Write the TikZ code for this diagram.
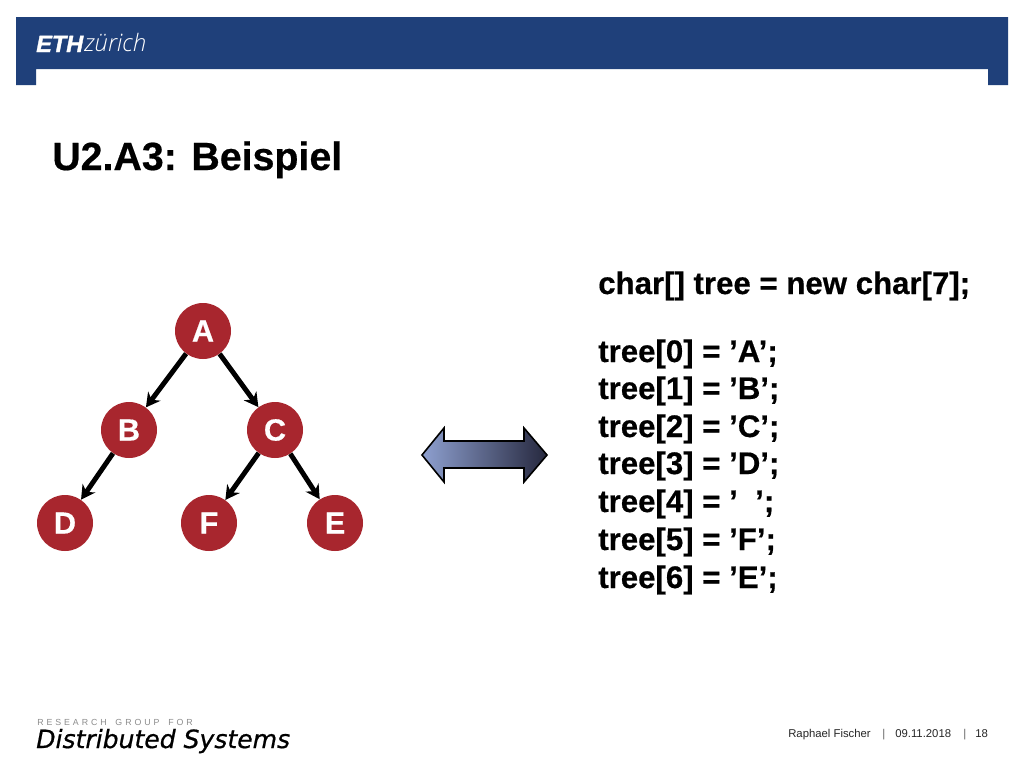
\documentclass[tikz,border=0pt]{standalone}
\usepackage{fontspec}
\setmainfont{Liberation Sans}[BoldFeatures={FakeBold=0.5},BoldItalicFeatures={FakeBold=1.6}]
\newfontfamily\logofont[FakeBold=0.7]{DejaVu Sans}
\newfontfamily\zfont{Open Sans Light}
\usetikzlibrary{arrows.meta}
\definecolor{ethblue}{HTML}{1F407A}
\definecolor{ethred}{HTML}{A8262E}
\tikzset{
  x=0.75pt,y=-0.75pt,
  tree/.style={circle,fill=ethred,draw=none,minimum size=42pt,inner sep=0pt,text=white,font=\bfseries\fontsize{23}{23}\selectfont},
  edge/.style={line width=3.7pt,-{Stealth[length=10.5pt,width=11.5pt]}},
  code/.style={anchor=base west,inner sep=0pt,font=\bfseries\fontsize{23.4}{23.4}\selectfont},
  foot/.style={anchor=base west,inner sep=0pt,text=black!85,font=\fontsize{8.5}{8.5}\selectfont}
}
\begin{document}
\begin{tikzpicture}
\useasboundingbox[fill=white] (0,0) rectangle (1024,768);
\fill[ethblue] (16,17) -- (1008,17) -- (1008,85) -- (988,85) -- (988,69) -- (36,69) -- (36,85) -- (16,85) -- cycle;
\node[anchor=base west,inner sep=0pt,text=white,font=\bfseries\itshape\fontsize{17.6}{17.6}\selectfont] (eth) at (36,52) {ETH};
\node[anchor=base west,inner sep=0pt,text=white,font=\zfont\itshape\fontsize{18}{18}\selectfont] (zu) at (84,51) {zürich};
\node[anchor=base west,inner sep=0pt,font=\bfseries\fontsize{29.5}{29.5}\selectfont] (title) at (52,170) {U2.A3: Beispiel};
\node[tree] (A) at (203,331) {A};
\node[tree] (B) at (129,430) {B};
\node[tree] (C) at (275,430) {C};
\node[tree] (D) at (65,523) {D};
\node[tree] (F) at (209,523) {F};
\node[tree] (E) at (335,523) {E};
\draw[edge] (A) -- (B);
\draw[edge] (A) -- (C);
\draw[edge] (B) -- (D);
\draw[edge] (C) -- (F);
\draw[edge] (C) -- (E);
\shade[draw=black,line width=1.2pt,line join=miter,left color={rgb,255:red,142;green,160;blue,208},middle color={rgb,255:red,118;green,132;blue,175},right color={rgb,255:red,38;green,40;blue,62}]
  (422,455) -- (444,428) -- (444,441) -- (524,441) -- (524,428) -- (547,455) -- (524,482) -- (524,468) -- (444,468) -- (444,482) -- cycle;
\node[code] (c0) at (598,294) {char[] tree = new char[7];};
\node[code] (t0) at (598,362) {tree[0] = ’A’;};
\node[code] (t1) at (598,399) {tree[1] = ’B’;};
\node[code] (t2) at (598,437) {tree[2] = ’C’;};
\node[code] (t3) at (598,474) {tree[3] = ’D’;};
\node[code] (t4) at (598,512) {tree[4] = ’\ \ ’;};
\node[code] (t5) at (598,550) {tree[5] = ’F’;};
\node[code] (t6) at (598,588) {tree[6] = ’E’;};
\node[anchor=base west,inner sep=0pt,text=black!45,font=\fontsize{6.6}{6.6}\selectfont] (rg) at (37,725) {R\,\,E\,\,S\,\,E\,\,A\,\,R\,\,C\,\,H\quad G\,\,R\,\,O\,\,U\,\,P\quad F\,\,O\,\,R};
\node[anchor=base west,inner sep=0pt,font=\logofont\itshape\fontsize{18.8}{18.8}\selectfont] (ds) at (36,748) {Distributed Systems};
\node[foot] (f1) at (788,737) {Raphael Fischer};
\node[foot,text=black!60] (s1) at (882,737) {|};
\node[foot] (f2) at (895,737) {09.11.2018};
\node[foot,text=black!60] (s2) at (963,737) {|};
\node[foot] (f3) at (975,737) {18};
\end{tikzpicture}
\end{document}
